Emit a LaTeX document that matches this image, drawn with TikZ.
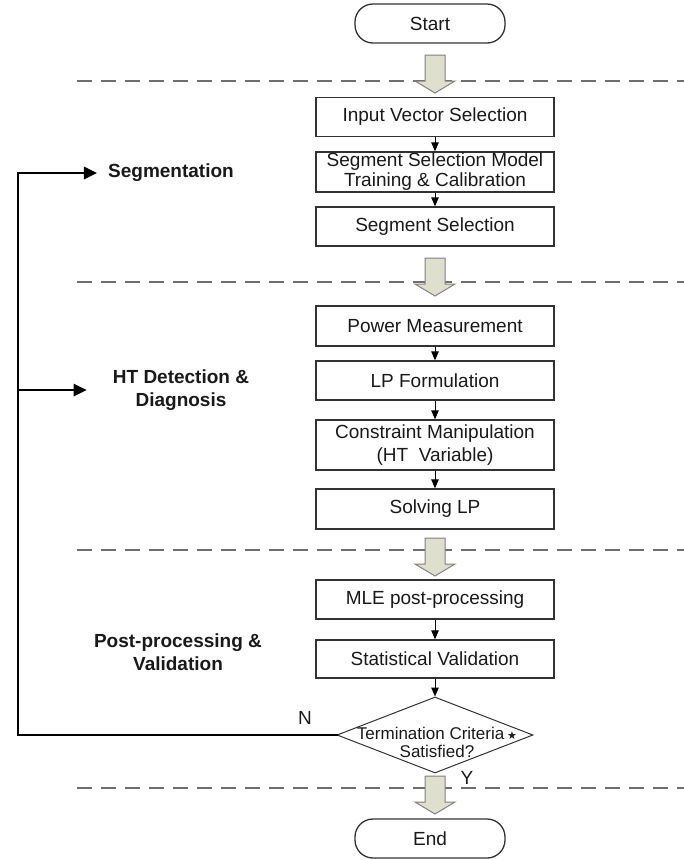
\documentclass[tikz,border=0pt]{standalone}
\usepackage{fontspec}
\setmainfont{Liberation Sans}
\newfontfamily\symfont{DejaVu Sans}
\usetikzlibrary{shapes.geometric,arrows.meta}
\definecolor{fatfill}{RGB}{222,224,205}
\definecolor{fatdraw}{RGB}{128,128,128}
\definecolor{dashgray}{RGB}{110,110,110}
\definecolor{boxline}{RGB}{50,50,50}
\definecolor{txt}{RGB}{25,25,25}
\begin{document}
\begin{tikzpicture}[x=1pt,y=-1pt,
  box/.style={draw=boxline, line width=1.3pt, minimum width=238pt, inner sep=0pt,
    align=center, text=txt, font=\fontsize{19}{20}\selectfont},
  term/.style={draw=boxline, line width=1.3pt, rounded corners=18pt, minimum width=150pt,
    minimum height=39pt, inner sep=0pt, text=txt, font=\fontsize{19}{22}\selectfont},
  flow/.style={-{Triangle[length=9pt,width=7.5pt]}, line width=1pt, black},
  sepline/.style={dash pattern=on 15pt off 9pt, draw=dashgray, line width=1.3pt},
  fat/.style={fill=fatfill, draw=fatdraw, line width=1pt},
  stage/.style={font=\bfseries\fontsize{19}{23}\selectfont, align=center, inner sep=0pt, text=txt},
  fbline/.style={line width=2.6pt, black, line cap=rect},
  fbarrow/.style={fbline, -{Triangle[length=13pt,width=12pt]}},
  yn/.style={font=\fontsize{19}{22}\selectfont, inner sep=0pt, text=txt},
  fatarrow/.pic={\draw[fat] (-10,0) -- (-10,26) -- (-20,26) -- (0,38) -- (20,26) -- (10,26) -- (10,0) -- cycle;}
]
\useasboundingbox (0,0) rectangle (684,860);

% section separators
\draw[sepline] (77,81) -- (684,81);
\draw[sepline] (77,282) -- (684,282);
\draw[sepline] (77,550) -- (684,550);
\draw[sepline] (77,788) -- (684,788);

% nodes
\node[term] (start) at (430,23.5) {Start};
\node[box, minimum height=39pt] (ivs) at (435,117) {Input Vector Selection};
\node[box, minimum height=40pt] (ssm) at (435,172) {Segment Selection Model\\Training \& Calibration};
\node[box, minimum height=39pt] (ss) at (435,226.5) {Segment Selection};
\node[box, minimum height=40pt] (pm) at (435,326) {Power Measurement};
\node[box, minimum height=39pt] (lp) at (435,380.5) {LP Formulation};
\node[box, minimum height=50pt, font=\fontsize{19}{23}\selectfont] (cm) at (435,445) {Constraint Manipulation\\(HT~ Variable)};
\node[box, minimum height=40pt] (slp) at (435,509) {Solving LP};
\node[box, minimum height=39pt] (mle) at (435,599.5) {MLE post-processing};
\node[box, minimum height=38pt] (sv) at (435,659) {Statistical Validation};
\node[diamond, draw=boxline, line width=1pt, minimum width=196pt, minimum height=76pt, inner sep=0pt] (dec) at (435,735) {};
\node[align=center, inner sep=0pt, text=txt, font=\fontsize{17}{18}\selectfont] (dectext) at (437,742)
  {Termination Criteria\,{\symfont\fontsize{11}{11}\selectfont ★}\\Satisfied?};
\node[term] (end) at (430,838.5) {End};

% stage labels
\node[stage] (seg) at (171,173) {Segmentation};
\node[stage] (ht) at (181,390) {HT Detection \&\\Diagnosis};
\node[stage] (post) at (178,652) {Post-processing \&\\Validation};

% fat stage arrows
\pic at (435,55) {fatarrow};
\pic at (435,258) {fatarrow};
\pic at (435,538) {fatarrow};
\pic at (435,776) {fatarrow};

% flow arrows
\draw[flow] (ivs) -- (ssm);
\draw[flow] (ssm) -- (ss);
\draw[flow] (pm) -- (lp);
\draw[flow] (lp) -- (cm);
\draw[flow] (cm) -- (slp);
\draw[flow] (mle) -- (sv);
\draw[flow] (sv) -- (dec);

% feedback loop
\coordinate (fbtop) at (18,173);
\coordinate (fbmid) at (18,390);
\draw[fbarrow, line join=miter] (dec.west) -| (fbtop) -- (seg.west) [shorten >=11pt];
\draw[fbarrow] (fbmid) -- (ht.west) [shorten >=26pt];

% branch labels
\node[yn] (nlab) at (305,718) {N};
\node[yn] (ylab) at (467,778) {Y};
\end{tikzpicture}
\end{document}
